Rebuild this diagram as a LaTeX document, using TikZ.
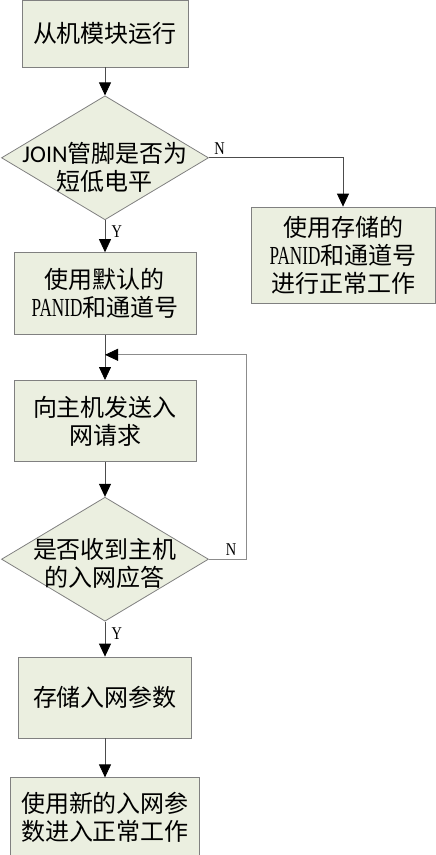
\documentclass[tikz,border=0pt]{standalone}
\usepackage{fontspec}
\setmainfont{Noto Sans CJK SC}
\newfontfamily\latinfont[FakeStretch=0.66]{Liberation Serif}
\newfontfamily\markfont[FakeStretch=0.8]{Liberation Serif}
\newfontfamily\joinfont{Carlito}
\usetikzlibrary{shapes.geometric, positioning, arrows.meta, calc}
\definecolor{boxfill}{HTML}{EBEFE0}
\definecolor{boxline}{HTML}{808080}

\begin{document}
\begin{tikzpicture}[
    process/.style={
        rectangle,
        draw=boxline,
        fill=boxfill,
        line width=0.8pt,
        inner sep=0pt,
        align=center,
        font=\fontsize{24pt}{28pt}\selectfont
    },
    decision/.style={
        diamond,
        draw=boxline,
        fill=boxfill,
        line width=0.8pt,
        inner sep=0pt,
        minimum width=207pt,
        minimum height=124pt
    },
    dtext/.style={
        align=center,
        inner sep=0pt,
        font=\fontsize{24pt}{28pt}\selectfont
    },
    arrow/.style={
        -{Triangle[length=13pt, width=12pt, color=black]},
        draw=black!70,
        line width=0.8pt
    },
    branch/.style={
        font=\markfont\fontsize{18pt}{18pt}\selectfont
    }
]
    \useasboundingbox (0,0) rectangle (436pt,-855pt);

    % -- Main column --
    \node[process, minimum width=166pt, minimum height=67pt] (run) at (105pt,-33.5pt) {从机模块运行};

    \node[decision, below=28pt of run] (pin) {};
    \node[dtext] (pintext) at ([yshift=-10pt]pin.center) {{\joinfont JOIN}管脚是否为\\短低电平};

    \node[process, minimum width=182pt, minimum height=82pt, below=32pt of pin] (default) {使用默认的\\{\latinfont\fontsize{26pt}{28pt}\selectfont PANID}和通道号};
    \node[process, minimum width=182pt, minimum height=81pt, below=45pt of default] (request) {向主机发送入\\网请求};

    \node[decision, below=35pt of request] (ack) {};
    \node[dtext] (acktext) at ([yshift=-4pt]ack.center) {是否收到主机\\的入网应答};

    \node[process, minimum width=173pt, minimum height=81pt, below=35pt of ack] (save) {存储入网参数};
    \node[process, minimum width=189pt, minimum height=80pt, below=39pt of save] (newparam) {使用新的入网参\\数进入正常工作};

    % -- Side branch --
    \node[process, minimum width=184pt, minimum height=96pt] (stored) at (343pt,-255pt) {使用存储的\\{\latinfont\fontsize{26pt}{28pt}\selectfont PANID}和通道号\\进行正常工作};

    % Merge point for the retry loop
    \coordinate (merge) at ($(default.south)!0.44!(request.north)$);

    % -- Connectors --
    \draw[arrow] (run) -- (pin);
    \draw[arrow] (pin) -- node[branch, pos=0.35, right=3pt] {Y} (default);
    \draw[arrow] (pin.east) -| node[branch, pos=0.04, above] {N} (stored.north);
    \draw[arrow] (default) -- (request);
    \draw[arrow] (request) -- (ack);
    \draw[arrow, draw=black!45] (ack.east) -- node[branch, pos=0.6, above] {N} ++(37pt,0) |- (merge);
    \draw[arrow] (ack) -- node[branch, pos=0.34, right=3pt] {Y} (save);
    \draw[arrow] (save) -- (newparam);

\end{tikzpicture}
\end{document}
